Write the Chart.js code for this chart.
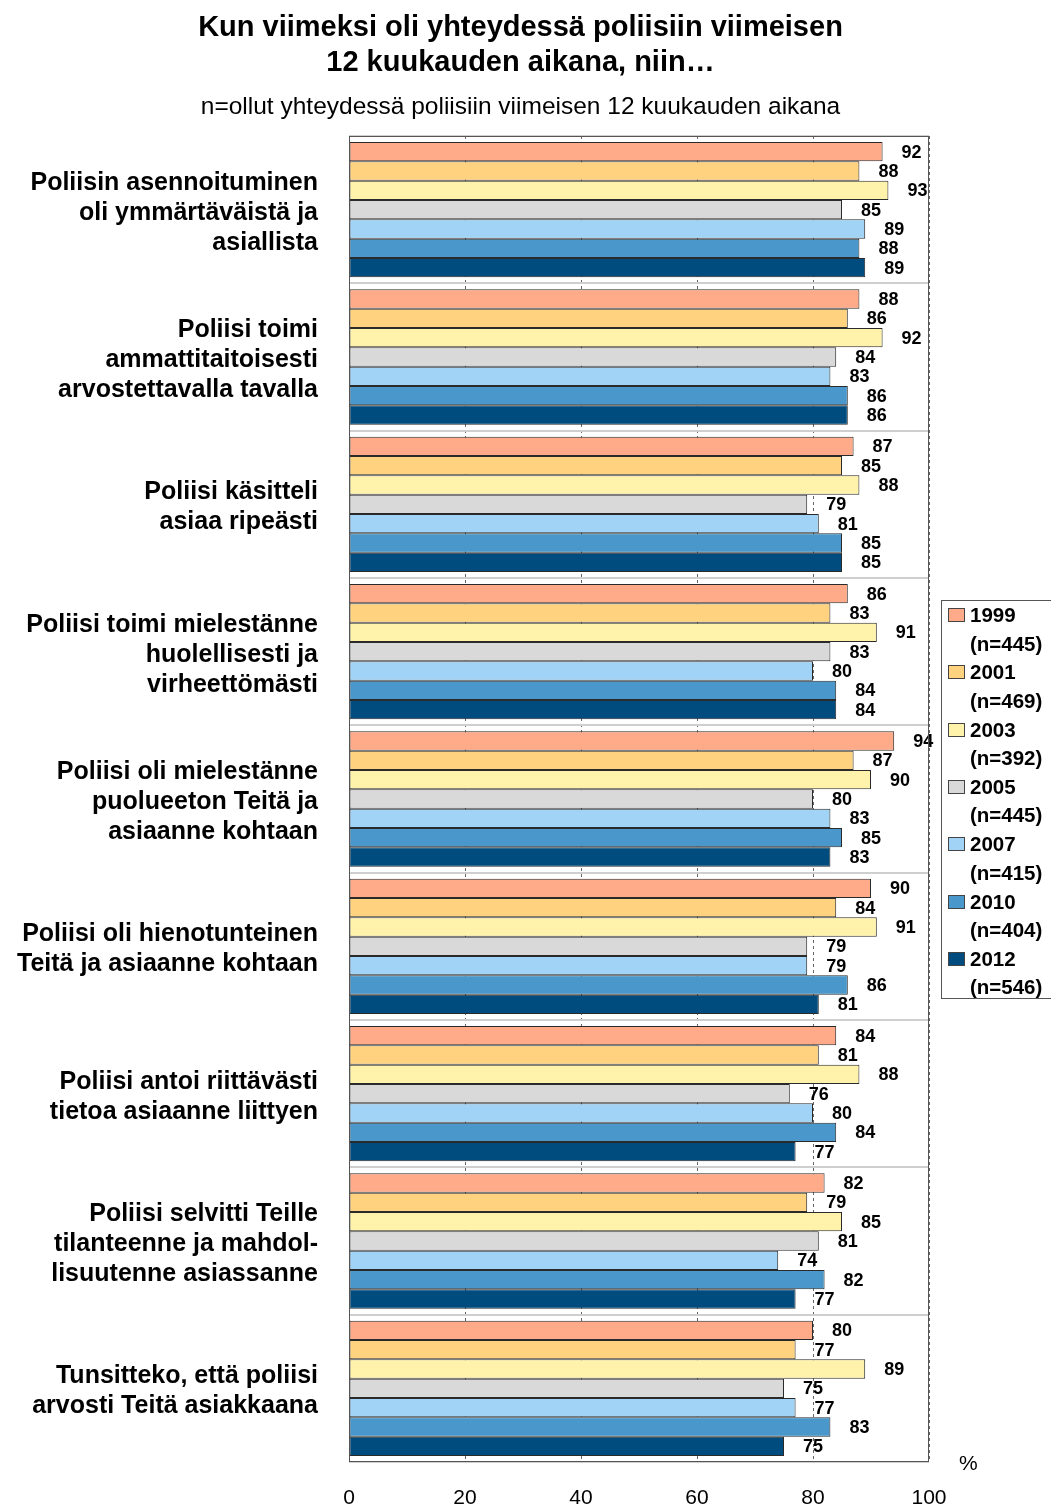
<!DOCTYPE html>
<html>
<head>
<meta charset="utf-8">
<script src="https://cdn.jsdelivr.net/npm/chart.js@4/dist/chart.umd.min.js"></script>
<style>
  body{margin:0;background:#fff;font-family:"Liberation Sans",Arial,sans-serif;}
  #wrap{position:relative;width:1051px;height:1508px;overflow:hidden;}
  #chart{position:absolute;left:0;top:0;}
  .title{position:absolute;left:0;width:1041px;text-align:center;font-weight:bold;font-size:29px;line-height:35px;top:9px;color:#000;}
  .sub{position:absolute;left:0;width:1041px;text-align:center;font-size:24.5px;top:92px;color:#000;}
  .pct{position:absolute;left:959px;top:1451px;font-size:21px;}
  #legend{position:absolute;left:941px;top:600px;width:130px;height:397px;border:1px solid #555;background:#fff;}
  .lg{position:absolute;left:6px;font-weight:bold;font-size:20.5px;line-height:28.5px;}
  .lg i{display:inline-block;width:15px;height:12px;border:1px solid #444;margin-right:5px;vertical-align:0px;}
  .lg span{display:block;padding-left:22px;}
</style>
</head>
<body>
<div id="wrap">
  <canvas id="chart" width="1051" height="1508"></canvas>
  <div class="title">Kun viimeksi oli yhteydessä poliisiin viimeisen<br>12 kuukauden aikana, niin…</div>
  <div class="sub">n=ollut yhteydessä poliisiin viimeisen 12 kuukauden aikana</div>
  <div class="pct">%</div>
  <div id="legend"></div>
</div>
<script>
const categories = [
  ['Poliisin asennoituminen','oli ymmärtäväistä ja','asiallista'],
  ['Poliisi toimi','ammattitaitoisesti','arvostettavalla tavalla'],
  ['Poliisi käsitteli','asiaa ripeästi'],
  ['Poliisi toimi mielestänne','huolellisesti ja','virheettömästi'],
  ['Poliisi oli mielestänne','puolueeton Teitä ja','asiaanne kohtaan'],
  ['Poliisi oli hienotunteinen','Teitä ja asiaanne kohtaan'],
  ['Poliisi antoi riittävästi','tietoa asiaanne liittyen'],
  ['Poliisi selvitti Teille','tilanteenne ja mahdol-','lisuutenne asiassanne'],
  ['Tunsitteko, että poliisi','arvosti Teitä asiakkaana']
];

const years = ['1999','2001','2003','2005','2007','2010','2012'];
const sampleSizes = ['(n=445)','(n=469)','(n=392)','(n=445)','(n=415)','(n=404)','(n=546)'];

const v1999 = [92,88,87,86,94,90,84,82,80];
const v2001 = [88,86,85,83,87,84,81,79,77];
const v2003 = [93,92,88,91,90,91,88,85,89];
const v2005 = [85,84,79,83,80,79,76,81,75];
const v2007 = [89,83,81,80,83,79,80,74,77];
const v2010 = [88,86,85,84,85,86,84,82,83];
const v2012 = [89,86,85,84,83,81,77,77,75];

const xTicks = [0,20,40,60,80,100];

const colors = ['#FFAA88','#FFD280','#FFF3AC','#D9D9D9','#A0D3F6','#4A98CB','#004C7E'];
const series = [v1999,v2001,v2003,v2005,v2007,v2010,v2012];

const FONT = '"Liberation Sans", Arial, sans-serif';

// value labels right of each bar
const valueLabels = {
  id:'valueLabels',
  afterDatasetsDraw(chart){
    const ctx = chart.ctx;
    ctx.save();
    ctx.font = 'bold 18px ' + FONT;
    ctx.fillStyle = '#000';
    ctx.textAlign = 'left';
    ctx.textBaseline = 'middle';
    chart.data.datasets.forEach((ds,i)=>{
      chart.getDatasetMeta(i).data.forEach((el,j)=>{
        ctx.fillText(ds.data[j], el.x + 19, el.y + 1);
      });
    });
    ctx.restore();
  }
};

// frame round the plot
const frame = {
  id:'frame',
  afterDraw(chart){
    const a = chart.chartArea, ctx = chart.ctx;
    ctx.save();
    ctx.strokeStyle = '#555';
    ctx.lineWidth = 1;
    ctx.strokeRect(a.left+0.5, a.top+0.5, a.right-a.left-1, a.bottom-a.top-1);
    ctx.restore();
  }
};

function renderLegend(){
  const lg = document.getElementById('legend');
  years.forEach((y,i)=>{
    const d = document.createElement('div');
    d.className = 'lg';
    d.style.top = (i*57.3) + 'px';
    d.innerHTML = `<i style="background:${colors[i]}"></i>${y}<span>${sampleSizes[i]}</span>`;
    lg.appendChild(d);
  });
}

function renderChart(){
  const ctx = document.getElementById('chart');
  new Chart(ctx, {
    type:'bar',
    data:{
      labels: categories,
      datasets: years.map((y,i)=>({
        label: y,
        data: series[i],
        backgroundColor: colors[i],
        borderColor: '#2a2a2a',
        borderWidth: 1,
        borderSkipped: false,
        categoryPercentage: 0.918,
        barPercentage: 1
      }))
    },
    options:{
      indexAxis:'y',
      responsive:false,
      animation:false,
      events:[],
      layout:{padding:{top:136,right:122,left:0,bottom:0}},
      plugins:{legend:{display:false},tooltip:{enabled:false},title:{display:false}},
      scales:{
        x:{
          min:0, max:100,
          afterBuildTicks(s){ s.ticks = xTicks.map(v=>({value:v})); },
          afterFit(s){ s.height = 46; s.paddingLeft = 0; s.paddingRight = 0; },
          grid:{color:'#666', lineWidth:1, drawTicks:false},
          border:{display:false, dash:[3,3]},
          ticks:{color:'#000', padding:24, font:{family:FONT, size:21}}
        },
        y:{
          afterFit(s){ s.width = 349; s.paddingTop = 0; s.paddingBottom = 0; },
          grid:{color:'#cfcfcf', lineWidth:2, drawTicks:false, offset:true},
          border:{display:false},
          ticks:{color:'#000', padding:31, labelOffset:3, font:{family:FONT, size:25, weight:'bold', lineHeight:1.2}}
        }
      }
    },
    plugins:[valueLabels, frame]
  });
}

renderLegend();
renderChart();
</script>
</body>
</html>
